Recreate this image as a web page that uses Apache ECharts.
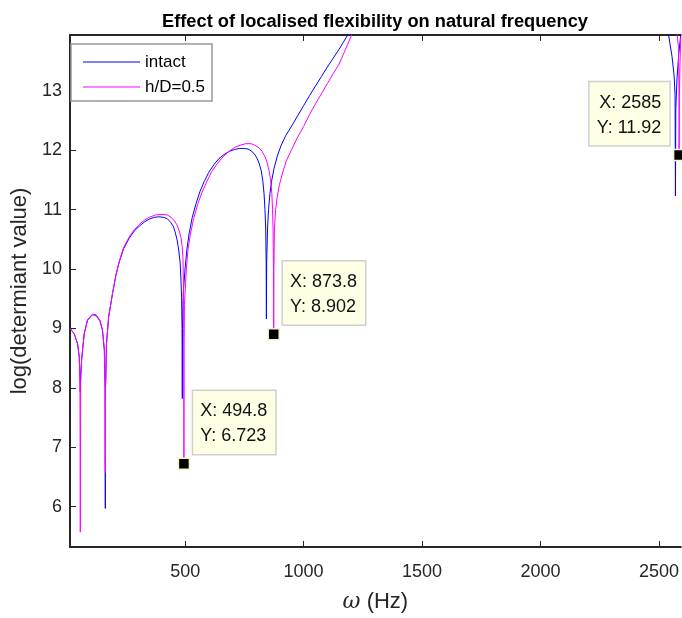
<!DOCTYPE html>
<html>
<head>
<meta charset="utf-8">
<title>Effect of localised flexibility on natural frequency</title>
<script src="https://cdn.jsdelivr.net/npm/echarts@6/dist/echarts.min.js"></script>
<style>
html,body{margin:0;padding:0;background:#fff;}
#lineChart{width:682px;height:618px;}
</style>
</head>
<body>
<div id="lineChart"></div>
<script>
// 数据 (null = curve leaves the axes)
var freqIntact = [14, 32, 46, 53, 56, 57.5, 59, 63, 74, 88, 109, 124, 140, 151, 159, 162, 163, 164, 168, 177, 194, 208, 222, 240, 264, 285, 306, 327, 348, 370, 390, 408, 424, 438, 450, 458, 466, 473, 479, 482, 485, 487, 488,
	489, 492, 500, 508, 517, 530, 546, 562, 580, 600, 622, 643, 665, 686, 707, 728, 749, 765, 778, 792, 804, 813, 821, 828, 833, 837, 840, 842, 843,
	844, 848, 852, 858, 865, 875, 889, 905, 925, 947, 972, 1000, 1025, 1050, 1075, 1100, 1125, 1150, 1168, 1186, 1200, 1900,
	2530, 2541, 2555, 2564, 2568, 2569.5, 2571, 2576, 2583, 2592];
var valIntact  = [9.0, 8.91, 8.74, 8.52, 8.2, 7.93, 8.2, 8.47, 8.91, 9.14, 9.23, 9.22, 9.13, 8.97, 8.63, 8.0, 5.97, 8.0, 8.74, 9.19, 9.6, 9.9, 10.12, 10.34, 10.52, 10.64, 10.72, 10.79, 10.84, 10.87, 10.88, 10.87, 10.85, 10.79, 10.72, 10.62, 10.49, 10.32, 10.1, 9.85, 9.52, 9.0, 7.82,
	9.0, 9.6, 10.02, 10.35, 10.6, 10.87, 11.1, 11.3, 11.47, 11.63, 11.76, 11.86, 11.93, 11.98, 12.01, 12.03, 12.03, 12.02, 11.99, 11.94, 11.86, 11.77, 11.66, 11.48, 11.27, 11.0, 10.69, 10.1, 9.16,
	10.1, 10.69, 11.0, 11.27, 11.48, 11.69, 11.9, 12.08, 12.25, 12.39, 12.56, 12.75, 12.92, 13.08, 13.24, 13.4, 13.55, 13.7, 13.82, 13.94, 14.03, null,
	14.1, 13.93, 13.58, 13.25, 12.92, 11.23, 12.7, 13.2, 13.6, 13.95];

var freqFlex = [14, 32, 46, 53, 56, 57.5, 59, 63, 74, 88, 109, 124, 140, 151, 159, 162, 163, 164, 168, 177, 194, 208, 222, 240, 264, 285, 306, 327, 348, 375, 403, 425, 441, 455, 466, 475, 483, 488, 491, 493.5, 494.3, 494.8,
	495.3, 497, 505, 512, 522, 536, 552, 570, 590, 612, 635, 660, 685, 710, 736, 757, 778, 796, 812, 825, 837, 846, 854, 861, 866, 869, 871, 873, 873.8,
	874.6, 877, 882, 888, 898, 910, 927, 947, 972, 1000, 1025, 1050, 1075, 1100, 1125, 1150, 1177, 1203, 1220, 1900,
	2560, 2575, 2582, 2584.5, 2585, 2586, 2589, 2592];
var valFlex  = [9.0, 8.91, 8.74, 8.52, 8.1, 5.57, 8.1, 8.47, 8.91, 9.15, 9.24, 9.23, 9.14, 8.98, 8.64, 8.0, 6.57, 8.0, 8.74, 9.19, 9.6, 9.9, 10.13, 10.36, 10.54, 10.66, 10.75, 10.82, 10.87, 10.91, 10.92, 10.91, 10.87, 10.81, 10.74, 10.64, 10.52, 10.36, 10.16, 9.52, 8.7, 6.723,
	8.7, 9.4, 10.0, 10.33, 10.58, 10.85, 11.08, 11.28, 11.46, 11.64, 11.77, 11.89, 11.98, 12.05, 12.09, 12.11, 12.11, 12.08, 12.04, 11.98, 11.89, 11.79, 11.66, 11.5, 11.27, 11.0, 10.69, 10.0, 8.902,
	10.0, 10.69, 11.0, 11.2, 11.42, 11.6, 11.82, 11.99, 12.2, 12.4, 12.6, 12.78, 12.95, 13.12, 13.29, 13.45, 13.7, 13.94, 14.05, null,
	14.1, 14.0, 13.75, 13.0, 11.92, 12.9, 13.5, 13.9];

// data tips
var tipX = [494.8, 873.8, 2585];
var tipY = [6.723, 8.902, 11.92];

var xTicks = [500, 1000, 1500, 2000, 2500];
var yTicks = [6, 7, 8, 9, 10, 11, 12, 13];
var xMin = 14, xMax = 2592;
var yMin = 5.32, yMax = 13.94;

var fontName = "'Liberation Sans', Arial, Helvetica, sans-serif";
var axisColor = '#262626';

function pairs(xs, ys){
	var out = [];
	for(var i = 0; i < xs.length; i++){
		out.push([xs[i], ys[i] == null ? '-' : ys[i]]);
	}
	return out;
}

function creatline(){
	var myChart = echarts.init(document.getElementById('lineChart'), null, {renderer: 'canvas'});

	var tips = [];
	for(var i = 0; i < tipX.length; i++){
		var item = {value: [tipX[i], tipY[i]]};
		if(tipX[i] > 2000){ // last tip sits to the upper left
			item.label = {position: [-3.5, -3.5], align: 'right', verticalAlign: 'bottom'};
		}
		tips.push(item);
	}

	var option = {
		backgroundColor: '#fff',
		animation: false,
		title: {
			text: 'Effect of localised flexibility on natural frequency',
			left: 157,
			top: 8,
			textStyle: {fontSize: 18.25, fontWeight: 'bold', color: '#000', fontFamily: fontName}
		},
		legend: {
			data: ['intact', 'h/D=0.5'],
			orient: 'vertical',
			left: 71,
			top: 44,
			padding: [8, 7, 4, 12],
			itemGap: 5,
			itemWidth: 57,
			itemHeight: 1,
			icon: 'rect',
			backgroundColor: '#fff',
			borderColor: '#999',
			borderWidth: 1.5,
			textStyle: {fontSize: 17, lineHeight: 20, color: '#000', fontFamily: fontName}
		},
		grid: {left: 70, right: 0, top: 35, bottom: 66},
		xAxis: [{
			type: 'value',
			position: 'bottom',
			min: xMin,
			max: xMax,
			name: '{w|ω} (Hz)',
			nameLocation: 'middle',
			nameGap: 44,
			nameTextStyle: {
				fontSize: 22, color: axisColor, fontFamily: fontName,
				rich: {w: {fontSize: 22, fontStyle: 'italic', color: axisColor, fontFamily: "'DejaVu Serif', serif"}}
			},
			axisLine: {lineStyle: {color: axisColor, width: 2}},
			axisTick: {inside: true, length: 6, customValues: xTicks, lineStyle: {color: axisColor, width: 1}},
			axisLabel: {
				customValues: xTicks, fontSize: 18, color: axisColor, margin: 16, fontFamily: fontName,
				formatter: function(v){ return String(v); }
			},
			splitLine: {show: false}
		}, {
			type: 'value',
			position: 'top',
			min: xMin,
			max: xMax,
			axisLine: {lineStyle: {color: axisColor, width: 2}},
			axisTick: {inside: true, length: 6, customValues: xTicks, lineStyle: {color: axisColor, width: 1}},
			axisLabel: {show: false},
			splitLine: {show: false}
		}],
		yAxis: {
			type: 'value',
			min: yMin,
			max: yMax,
			name: 'log(determiant value)',
			nameLocation: 'middle',
			nameGap: 37,
			nameTextStyle: {fontSize: 22, color: axisColor, fontFamily: fontName},
			axisLine: {show: true, lineStyle: {color: axisColor, width: 2}},
			axisTick: {show: true, inside: true, length: 6, customValues: yTicks, lineStyle: {color: axisColor, width: 1}},
			axisLabel: {customValues: yTicks, fontSize: 18, color: axisColor, margin: 8, fontFamily: fontName},
			splitLine: {show: false}
		},
		series: [
			{
				name: 'intact',
				type: 'line',
				data: pairs(freqIntact, valIntact),
				symbol: 'none',
				showSymbol: false,
				connectNulls: false,
				color: '#0000ff',
				lineStyle: {color: '#0000ff', width: 1},
				z: 2
			},
			{
				name: 'h/D=0.5',
				type: 'line',
				data: pairs(freqFlex, valFlex),
				symbol: 'none',
				showSymbol: false,
				connectNulls: false,
				color: '#ff00ff',
				lineStyle: {color: '#ff00ff', width: 1},
				z: 3
			},
			{
				name: 'tips',
				type: 'scatter',
				data: tips,
				symbol: 'rect',
				symbolSize: 11,
				itemStyle: {color: '#000', opacity: 1, borderColor: '#f3f3c6', borderWidth: 1.5},
				z: 5,
				label: {
					show: true,
					position: [15.5, -3.5],
					align: 'left',
					verticalAlign: 'bottom',
					formatter: function(p){
						return 'X: ' + p.value[0] + '\nY: ' + p.value[1];
					},
					fontSize: 18,
					lineHeight: 25,
					color: '#111',
					fontFamily: fontName,
					backgroundColor: '#ffffe6',
					borderColor: '#cfcfcf',
					borderWidth: 1.5,
					padding: [8, 8, 5, 7]
				}
			}
		]
	};
	myChart.setOption(option);
}
creatline();
</script>
</body>
</html>
